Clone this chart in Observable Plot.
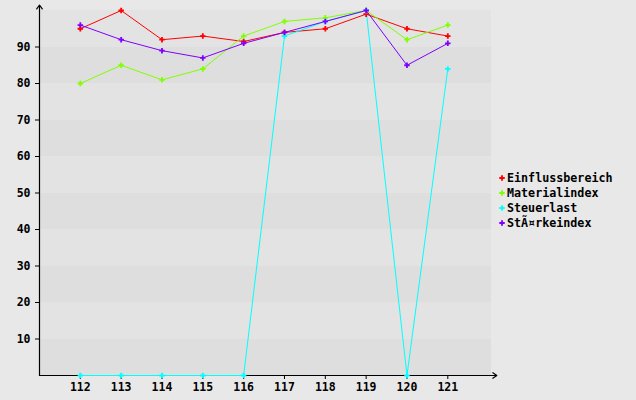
<!DOCTYPE html>
<html>
<head>
<meta charset="utf-8">
<script src="https://cdn.jsdelivr.net/npm/d3@7"></script>
<script src="https://cdn.jsdelivr.net/npm/@observablehq/plot@0.6"></script>
<style>
  html, body { margin: 0; padding: 0; background: #e8e8e8; }
  #wrap { position: relative; width: 636px; height: 400px; }
  #legend { position: absolute; left: 499px; top: 171px; font: bold 11.7px "DejaVu Sans Mono", monospace; color: #000; }
  #legend div { height: 15px; line-height: 15px; white-space: nowrap; }
  #legend svg { vertical-align: middle; margin-right: 2px; position: relative; top: -1px; }
</style>
</head>
<body>
<div id="wrap"></div>
<script>
const categories = [112, 113, 114, 115, 116, 117, 118, 119, 120, 121];
const einflussbereich = [95, 100, 92, 93, 91.5, 94, 95, 99, 95, 93];
const materialindex   = [80, 85, 81, 84, 93, 97, 98, 100, 92, 96];
const steuerlast      = [0, 0, 0, 0, 0, 93, 97, 100, 0, 84];
const staerkeindex    = [96, 92, 89, 87, 91, 94, 97, 100, 85, 91];
const seriesNames  = ["Einflussbereich", "Materialindex", "Steuerlast", "StÃ¤rkeindex"];
const seriesColors = ["#ff0000", "#80ff00", "#00ffff", "#8000ff"];
const yTicks = [10, 20, 30, 40, 50, 60, 70, 80, 90];
const yBands = [0, 10, 20, 30, 40, 50, 60, 70, 80, 90];

const seriesValues = [einflussbereich, materialindex, steuerlast, staerkeindex];
const data = [];
seriesNames.forEach((name, s) => {
  categories.forEach((c, i) => data.push({series: name, x: c, y: seriesValues[s][i]}));
});
const bands = yBands.map((b, i) => ({y1: b, y2: b + 10, dark: i % 2 === 0}));

const xDomain = [111.0, 122.07];
const yDomain = [0, 100];
const xArrowEnd = 122.2;
const yArrowEnd = 101.5;

const chart = Plot.plot({
  width: 636,
  height: 400,
  marginLeft: 39,
  marginRight: 145,
  marginTop: 10,
  marginBottom: 25,
  style: {background: "#e8e8e8", fontFamily: "DejaVu Sans Mono, monospace", fontSize: "11.5px", fontWeight: "bold", color: "#000", overflow: "visible"},
  x: {domain: xDomain, label: null},
  y: {domain: yDomain, label: null},
  color: {domain: seriesNames, range: seriesColors},
  marks: [
    Plot.rectY(bands, {y1: "y1", y2: "y2", fill: d => d.dark ? "#dedede" : "#e3e3e3"}),
    Plot.axisY({ticks: yTicks, tickSize: 4, tickPadding: 5, tickFormat: d => d, label: null, stroke: "#000", strokeWidth: 1}),
    Plot.axisX({ticks: categories, tickSize: 4, tickPadding: 3, tickFormat: d => d, label: null, stroke: "#000", strokeWidth: 1}),
    Plot.arrow([0], {x1: xDomain[0], y1: 0, x2: xDomain[0], y2: yArrowEnd, stroke: "#000", strokeWidth: 1.2, headLength: 6, headAngle: 70, bend: 0}),
    Plot.arrow([0], {x1: xDomain[0], y1: 0, x2: xArrowEnd, y2: 0, stroke: "#000", strokeWidth: 1.2, headLength: 6, headAngle: 70, bend: 0}),
    Plot.line(data, {x: "x", y: "y", z: "series", stroke: "series", strokeWidth: 1}),
    Plot.dot(data, {x: "x", y: "y", fill: "series", symbol: "cross", r: 2.3, stroke: null})
  ]
});

const wrap = document.getElementById("wrap");
wrap.appendChild(chart);

const crossPath = d3.symbol(d3.symbolCross, 2.3 * 2.3 * Math.PI)();
const legend = document.createElement("div");
legend.id = "legend";
seriesNames.forEach((name, i) => {
  const row = document.createElement("div");
  row.innerHTML = `<svg width="6" height="6" viewBox="-3 -3 6 6"><path d="${crossPath}" fill="${seriesColors[i]}"/></svg>`;
  row.appendChild(document.createTextNode(name));
  legend.appendChild(row);
});
wrap.appendChild(legend);
</script>
</body>
</html>
